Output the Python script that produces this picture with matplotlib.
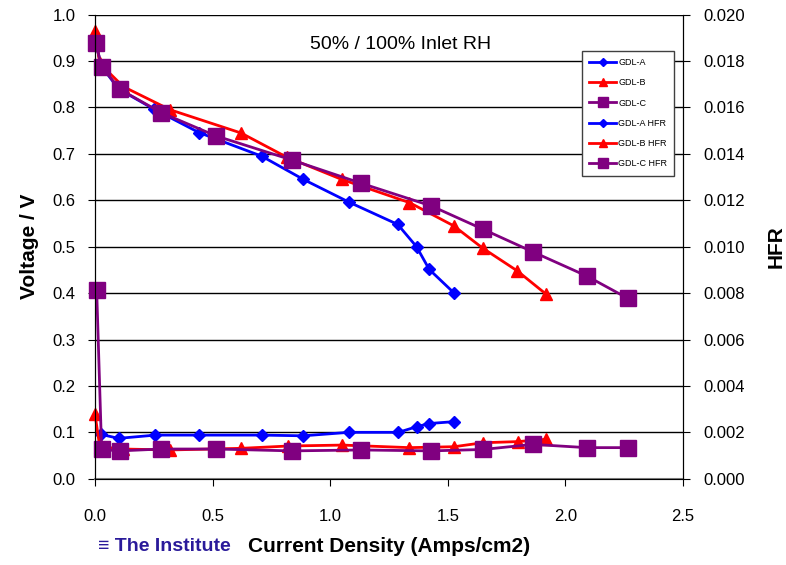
import matplotlib
matplotlib.use('Agg')
import matplotlib.pyplot as plt
import numpy as np

plt.rcParams['font.family'] = ['Liberation Sans', 'DejaVu Sans']

# polarization curves (current density, voltage)
a_x = [0.003, 0.026, 0.10, 0.252, 0.442, 0.709, 0.886, 1.08, 1.287, 1.367, 1.421, 1.527]
a_v = [0.940, 0.890, 0.840, 0.796, 0.746, 0.695, 0.645, 0.596, 0.548, 0.500, 0.451, 0.400]

b_x = [0.0, 0.02, 0.12, 0.32, 0.621, 0.815, 1.049, 1.337, 1.525, 1.648, 1.795, 1.917]
b_v = [0.965, 0.895, 0.845, 0.795, 0.745, 0.693, 0.645, 0.595, 0.545, 0.497, 0.448, 0.398]

c_x = [0.004, 0.028, 0.106, 0.281, 0.513, 0.836, 1.13, 1.429, 1.648, 1.861, 2.09, 2.264]
c_v = [0.938, 0.888, 0.839, 0.789, 0.739, 0.687, 0.637, 0.588, 0.538, 0.489, 0.437, 0.389]

# HFR
a_hx = [0.026, 0.10, 0.256, 0.443, 0.709, 0.886, 1.08, 1.29, 1.367, 1.421, 1.527]
a_hfr = [0.00191, 0.00174, 0.00188, 0.00188, 0.00188, 0.00185, 0.00200, 0.00200, 0.00224, 0.00238, 0.00246]

b_hx = [0.0, 0.02, 0.12, 0.319, 0.622, 0.822, 1.052, 1.337, 1.527, 1.648, 1.797, 1.917]
b_hfr = [0.00278, 0.00138, 0.00128, 0.00124, 0.00131, 0.00141, 0.00145, 0.00134, 0.00138, 0.00155, 0.00160, 0.00170]

c_hx = [0.007, 0.028, 0.106, 0.281, 0.514, 0.838, 1.13, 1.427, 1.648, 1.861, 2.09, 2.264]
c_hfr = [0.00814, 0.00126, 0.00120, 0.00128, 0.00128, 0.00120, 0.00124, 0.00120, 0.00126, 0.00148, 0.00134, 0.00134]

blue = '#0000FF'
red = '#FF0000'
purple = '#800080'

fig = plt.figure(figsize=(7.86, 5.65), dpi=100)
ax = fig.add_axes([0.1209, 0.1527, 0.7481, 0.8213])

l1, = ax.plot(a_x, a_v, color=blue, marker='D', ms=6, lw=2, label='GDL-A', clip_on=False)
l2, = ax.plot(b_x, b_v, color=red, marker='^', ms=9, lw=2, label='GDL-B', clip_on=False)
l3, = ax.plot(c_x, c_v, color=purple, marker='s', ms=11, lw=2, label='GDL-C', clip_on=False)

ax.set_xlim(0, 2.5)
ax.set_ylim(0, 1.0)
ax.set_xticks(np.arange(0, 2.51, 0.5))
ax.set_yticks(np.arange(0, 1.01, 0.1))
ax.set_xticklabels(['%.1f' % t for t in np.arange(0, 2.51, 0.5)])
ax.set_yticklabels(['%.1f' % t for t in np.arange(0, 1.01, 0.1)])
ax.yaxis.grid(True, color='black', lw=1)
ax.set_axisbelow(True)
ax.tick_params(axis='x', direction='out', length=5, pad=17, labelsize=12)
ax.tick_params(axis='y', direction='out', length=5, pad=9, labelsize=12)
ax.spines['top'].set_visible(False)
ax.spines['bottom'].set_color('#808080')
ax.spines['bottom'].set_linewidth(1.5)
ax.set_ylabel('Voltage / V', fontsize=15, fontweight='bold', labelpad=10)
ax.set_xlabel('Current Density (Amps/cm2)', fontsize=15, fontweight='bold', labelpad=9)

ax2 = ax.twinx()
l4, = ax2.plot(a_hx, a_hfr, color=blue, marker='D', ms=6, lw=2, label='GDL-A HFR', clip_on=False)
l5, = ax2.plot(b_hx, b_hfr, color=red, marker='^', ms=9, lw=2, label='GDL-B HFR', clip_on=False)
l6, = ax2.plot(c_hx, c_hfr, color=purple, marker='s', ms=11, lw=2, label='GDL-C HFR', clip_on=False)
ax2.set_ylim(0, 0.020)
ax2.set_yticks(np.arange(0, 0.0201, 0.002))
ax2.set_yticklabels(['%.3f' % t for t in np.arange(0, 0.0201, 0.002)])
ax2.tick_params(axis='y', direction='out', length=5, pad=10, labelsize=12)
ax2.spines['top'].set_visible(False)
ax2.set_ylabel('HFR', fontsize=15, fontweight='bold', labelpad=15)

ax.text(0.52, 0.935, '50% / 100% Inlet RH', transform=ax.transAxes,
        ha='center', va='center', fontsize=14)

leg = ax2.legend(handles=[l1, l2, l3, l4, l5, l6], loc='upper right',
                 bbox_to_anchor=(0.993, 0.932), fontsize=6.5, fancybox=False,
                 edgecolor='#404040', framealpha=1, handlelength=3.0,
                 handletextpad=0.2, labelspacing=1.25, borderpad=0.8,
                 markerscale=0.7)
leg.get_frame().set_linewidth(1)

fig.text(0.125, 0.018, '\u2261 The Institute', color='#2a1a9a', fontsize=14,
         fontweight='bold', ha='left', va='bottom', fontstretch='condensed')

fig.savefig('out.png', dpi=100)
